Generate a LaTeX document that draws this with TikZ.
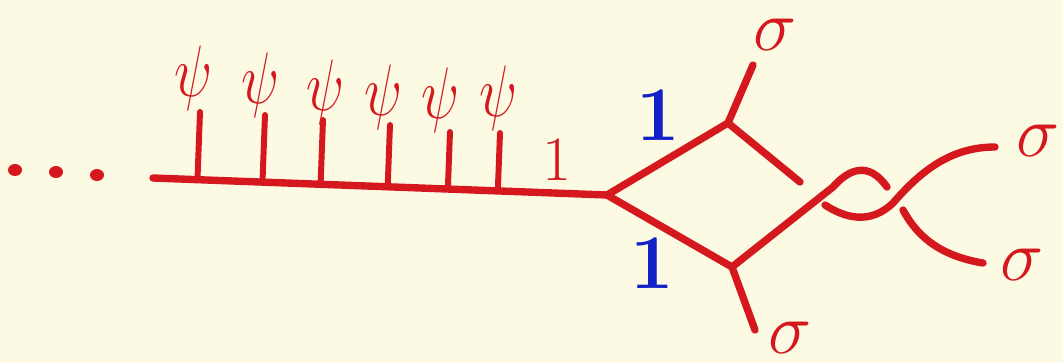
\documentclass[tikz,border=0pt]{standalone}
\usepackage{amsmath,amssymb}
\usetikzlibrary{calc}
\definecolor{paper}{RGB}{253,250,228}
\definecolor{inkred}{RGB}{212,24,30}
\definecolor{inkblue}{RGB}{18,32,200}
\tikzset{
  ink/.style={draw=inkred,line width=4.2pt,line cap=round,line join=round},
  stem/.style={draw=inkred,line width=3.4pt,line cap=round},
  redlab/.style={text=inkred,inner sep=0pt,font=\fontsize{20}{20}\selectfont},
  bluelab/.style={text=inkblue,inner sep=0pt,font=\fontsize{20}{20}\selectfont\bfseries}
}
\begin{document}
\begin{tikzpicture}[x=0.02cm,y=-0.02cm]
  \fill[paper] (0,0) rectangle (1063,363);
  \useasboundingbox (0,0) rectangle (1063,363);
  % the dots and the long line
  \foreach \px/\py in {15/170,56/172,97/175}
    \fill[inkred] (\px,\py) ellipse (7 and 6);
  \coordinate (lineL) at (153,178);
  \coordinate (vl) at (607,195);
  \coordinate (vt) at (728,123);
  \coordinate (vb) at (732,267);
  \draw[ink] (lineL) -- (vl);
  % stems with their psi labels
  \foreach \tx/\ty/\lx/\ly [count=\i] in {200/112/193/78,265/115/260/85,323/120/325/92,
      390/125/383/97,450/132/440/100,500/133/498/98} {
    \coordinate (top\i) at (\tx,\ty);
    \draw[stem] (top\i) -- ($(lineL)!(top\i)!(vl)$);
    \node[redlab] (psi\i) at (\lx,\ly) {\scalebox{1.55}[2]{$\psi$}};
  }
  \node[redlab] (one) at (557,160) {\scalebox{1.8}{1}};
  % the diamond and its outer legs
  \coordinate (legt) at (753,65);
  \coordinate (legb) at (755,330);
  \coordinate (gapt) at (800,182);
  \draw[ink] (vl) -- (vt) -- (gapt);
  \draw[ink] (vl) -- (vb);
  \draw[ink] (vt) -- (legt);
  \draw[ink] (vb) -- (legb);
  % the two strands crossing each other
  \coordinate (gapa) at (887,187);
  \coordinate (enda) at (983,263);
  \coordinate (endb) at (995,147);
  \coordinate (startb) at (825,205);
  \coordinate (starta) at (903,210);
  \draw[ink] (vb) -- (833,187) .. controls (848,170) and (868,160) .. (gapa);
  \draw[ink] (starta) .. controls (915,232) and (935,255) .. (enda);
  \draw[ink] (startb) .. controls (845,218) and (870,225) .. (893,203)
    .. controls (920,172) and (950,147) .. (endb);
  % labels
  \node[bluelab] (bt) at (658,115) {\scalebox{2.2}{1}};
  \node[bluelab] (bb) at (652,263) {\scalebox{2.2}{1}};
  \foreach \sx/\sy [count=\j] in {775/35,1038/141,1022/265,790/338}
    \node[redlab] (sig\j) at (\sx,\sy) {\scalebox{2}{$\sigma$}};
\end{tikzpicture}
\end{document}
